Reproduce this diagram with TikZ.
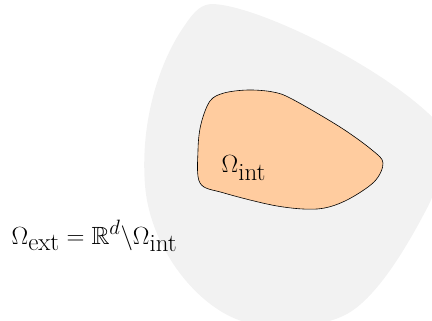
\documentclass[tikz,border=0pt]{standalone}
\usepackage{xcolor}
\usepackage{tikz}
\usetikzlibrary{positioning}
\usepackage{amsmath,amssymb}
\definecolor{gr05}{HTML}{F2F2F2}
\definecolor{or30}{HTML}{FFCC9F}
\DeclareMathSizes{24.88}{24.88}{20.74}{17.28}
\newcommand{\dsub}[1]{\text{\Huge #1}}

\begin{document}
\begin{tikzpicture}[x=1pt, y=-1pt,
    domlabel/.style={inner sep=0pt, anchor=base west, font=\Huge}]
  \useasboundingbox (0,0) rectangle (432,321);
  \clip (0,0) rectangle (432,321);
  % exterior domain
  \fill[gr05] (213,4) .. controls (260,6) and (390,70) .. (440,125)
    .. controls (448,150) and (440,185) .. (425,212)
    .. controls (405,250) and (375,300) .. (345,315)
    .. controls (320,328) and (270,330) .. (245,322)
    .. controls (200,310) and (150,250) .. (145,185)
    .. controls (140,120) and (160,60) .. (185,25)
    .. controls (195,10) and (202,4) .. (213,4) -- cycle;
  % interior domain
  \filldraw[fill=or30, draw=black, line width=0.6pt]
    plot[smooth cycle, tension=0.55] coordinates {
    (210,101) (224,93) (248,90) (273,92) (292,99) (340,127) (372,150)
    (383,163) (374,182) (345,201) (317,209) (277,206) (224,193)
    (200,183) (198,150) (201,124)};
  \node[domlabel] (int) at (221.5,173) {$\Omega_{\dsub{int}}$};
  \node[domlabel] (ext) at (11.5,244)
    {$\Omega_{\dsub{ext}} = \mathbb{R}^d\backslash\Omega_{\dsub{int}}$};
\end{tikzpicture}
\end{document}
